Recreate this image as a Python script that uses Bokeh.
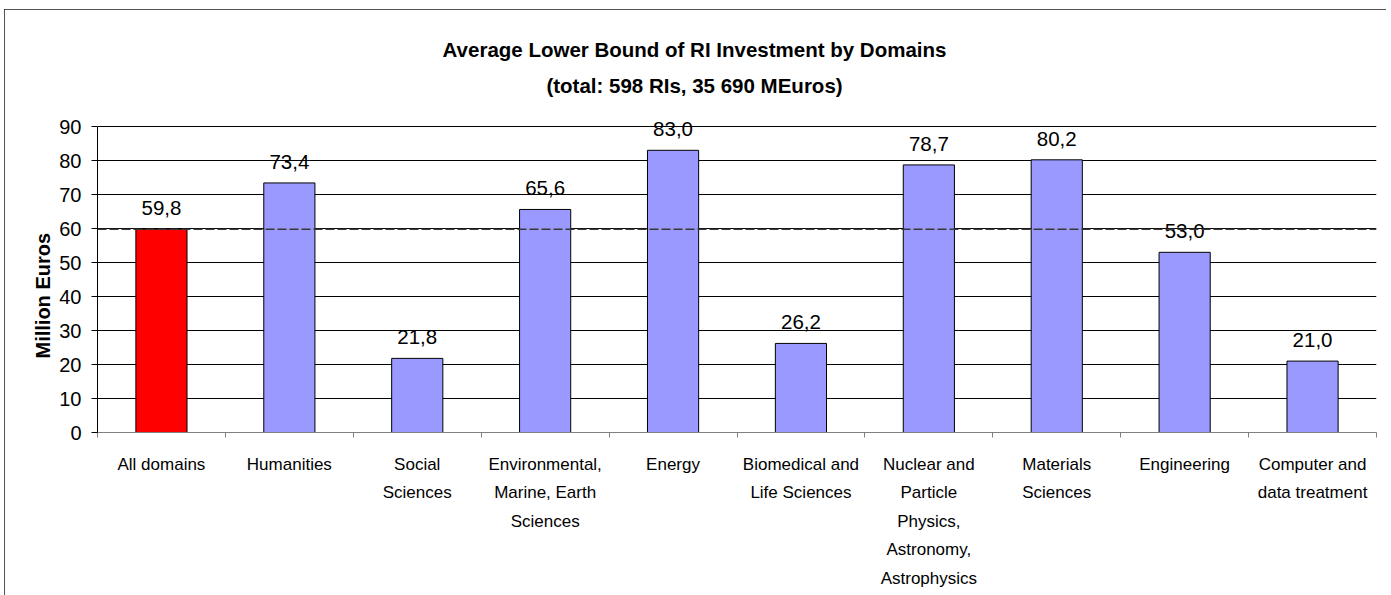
from bokeh.plotting import figure
from bokeh.models import FixedTicker, Span, Label, Range1d, ColumnDataSource, Title
from bokeh.embed import file_html
from bokeh.resources import INLINE
from bokeh.core.properties import value

# ---- data ----
title_line1 = "Average Lower Bound of RI Investment by Domains"
title_line2 = "(total: 598 RIs, 35 690 MEuros)"
y_title = "Million Euros"
categories = [
    "All domains",
    "Humanities",
    "Social\nSciences",
    "Environmental,\nMarine, Earth\nSciences",
    "Energy",
    "Biomedical and\nLife Sciences",
    "Nuclear and\nParticle\nPhysics,\nAstronomy,\nAstrophysics",
    "Materials\nSciences",
    "Engineering",
    "Computer and\ndata treatment",
]
values = [59.8, 73.4, 21.8, 65.6, 83.0, 26.2, 78.7, 80.2, 53.0, 21.0]
average_value = 59.8
y_ticks = [0, 10, 20, 30, 40, 50, 60, 70, 80, 90]
bar_colors = ["#FF0000"] + ["#9999FF"] * 9

FONT = "Liberation Sans"

# ---- layout (pixels) ----
W, H = 1382, 600
BORDER_L, BORDER_R, BORDER_T, BORDER_B = 93, 10, 3, 177
FRAME_H = H - BORDER_T - BORDER_B          # frame extends up into title area
AXIS_PX = 306                               # pixel height of the 0..90 axis
y_end = y_ticks[-1] * FRAME_H / AXIS_PX

idx = list(range(len(categories)))
labels = [f"{v:.1f}".replace(".", ",") for v in values]
source = ColumnDataSource(dict(x=idx, top=values, color=bar_colors, label=labels))

p = figure(
    width=W, height=H,
    x_range=Range1d(-0.5, len(categories) - 0.5),
    y_range=Range1d(0, y_end),
    output_backend="svg", toolbar_location=None,
    min_border_left=BORDER_L, min_border_right=BORDER_R,
    min_border_top=BORDER_T, min_border_bottom=BORDER_B,
)
p.outline_line_color = None
p.styles = {"margin-left": "4px", "margin-top": "9px", "margin-bottom": "-20px",
            "outline": "2px solid #1a1a1a", "outline-offset": "-2px"}

p.vbar(x="x", top="top", width=0.4, fill_color="color", line_color="#000000",
       line_width=1, source=source)

p.text(x="x", y="top", text="label", source=source, text_align="center",
       text_baseline="alphabetic", y_offset=-21, text_font=value(FONT),
       text_font_size="20.5px", text_color="#000000")

p.add_layout(Span(location=average_value, dimension="width", line_color="#383838",
                  line_dash="9 3", line_width=1.6))

# grid
p.xgrid.visible = False
p.ygrid.ticker = FixedTicker(ticks=y_ticks)
p.ygrid.grid_line_color = "#000000"
p.ygrid.grid_line_width = 1

# y axis
p.yaxis.ticker = FixedTicker(ticks=y_ticks)
p.yaxis.bounds = (y_ticks[0], y_ticks[-1])
p.yaxis.axis_line_color = "#000000"
p.yaxis.major_tick_line_color = "#000000"
p.yaxis.major_tick_out = 6
p.yaxis.major_tick_in = 0
p.yaxis.minor_tick_line_color = None
p.yaxis.major_label_standoff = 10
p.yaxis.major_label_text_font = FONT
p.yaxis.major_label_text_font_size = "20px"
p.yaxis.major_label_text_color = "#000000"

# y axis title, starting 74px above the frame bottom (reads bottom to top)
p.add_layout(Title(text=y_title, align="left", offset=74, standoff=6,
                   text_font=FONT, text_font_size="20px", text_font_style="bold",
                   text_color="#000000"), "left")

# x axis: labels at centers, tick marks at category boundaries
p.xaxis.ticker = FixedTicker(ticks=idx, minor_ticks=[i - 0.5 for i in range(len(categories) + 1)])
p.xaxis.major_label_overrides = {i: c for i, c in zip(idx, categories)}
p.xaxis.axis_line_color = "#808080"
p.xaxis.major_tick_out = 0
p.xaxis.major_tick_in = 0
p.xaxis.major_tick_line_color = None
p.xaxis.minor_tick_out = 5
p.xaxis.minor_tick_in = 0
p.xaxis.minor_tick_line_color = "#808080"
p.xaxis.major_label_standoff = 17
p.xaxis.major_label_text_font = FONT
p.xaxis.major_label_text_font_size = "17px"
p.xaxis.major_label_text_line_height = 1.5
p.xaxis.major_label_text_color = "#000000"
p.xaxis.major_label_text_align = "center"

# chart titles (screen units relative to frame bottom-left)
p.add_layout(Label(x=597, y=383, x_units="screen", y_units="screen", text=title_line1,
                   text_align="center", text_baseline="alphabetic", text_font=FONT,
                   text_font_size="20.5px", text_font_style="bold", text_color="#000000"))
p.add_layout(Label(x=597, y=347, x_units="screen", y_units="screen", text=title_line2,
                   text_align="center", text_baseline="alphabetic", text_font=FONT,
                   text_font_size="20.5px", text_font_style="bold", text_color="#000000"))

open("out.html", "w").write(file_html(p, INLINE))
